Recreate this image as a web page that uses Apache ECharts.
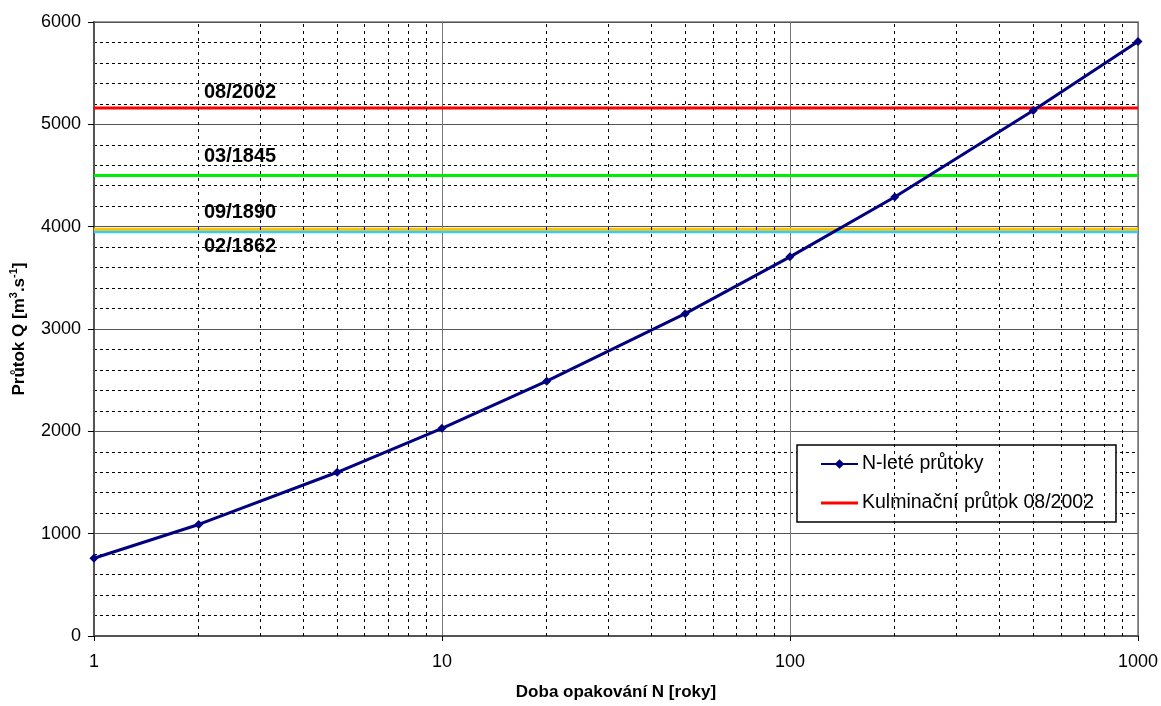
<!DOCTYPE html>
<html>
<head>
<meta charset="utf-8">
<script src="https://cdn.jsdelivr.net/npm/echarts@6/dist/echarts.min.js"></script>
<style>
html,body{margin:0;padding:0;background:#fff;}
#chart{width:1161px;height:706px;}
</style>
</head>
<body>
<div id="chart"></div>
<script>
// Return period N [years] and N-year discharge Q [m3/s]
const returnPeriods = [1, 2, 5, 10, 20, 50, 100, 200, 500, 1000];
const nYearFlows = [760, 1090, 1600, 2030, 2490, 3150, 3705, 4290, 5135, 5810];

// Historical flood peaks
const floodNames = ['08/2002', '03/1845', '02/1862', '09/1890'];
const floodPeaks = [5160, 4500, 3950, 3975];
const floodColors = ['#FF0000', '#00EE00', '#33CCFF', '#FFC000'];
const floodLabelOffsets = [[105, -15], [105, -19], [105, 15], [105, -17]];

// Axis tick values
const xMajorTicks = [1, 10, 100, 1000];
const xMinorTicks = [2, 3, 4, 5, 6, 7, 8, 9, 20, 30, 40, 50, 60, 70, 80, 90, 200, 300, 400, 500, 600, 700, 800, 900];
const yMin = 0, yMax = 6000, yStep = 1000;

const mainName = 'N-leté průtoky';
const legendFloodName = 'Kulminační průtok 08/2002';
const FONT = '"Liberation Sans", Arial, sans-serif';

const chart = echarts.init(document.getElementById('chart'));

const floodSeries = floodNames.map((nm, i) => ({
  name: i === 0 ? legendFloodName : nm,
  type: 'line',
  z: 3 + (i === 3 ? 1 : 0),
  data: [[xMajorTicks[0], floodPeaks[i]], [xMajorTicks[xMajorTicks.length - 1], floodPeaks[i]]],
  symbol: 'none',
  silent: true,
  lineStyle: { color: floodColors[i], width: 3 },
  itemStyle: { color: floodColors[i] },
  markPoint: {
    silent: true,
    symbol: 'circle',
    symbolSize: 0,
    data: [{ coord: [xMajorTicks[0], floodPeaks[i]], value: nm }],
    label: {
      show: true,
      position: 'right',
      offset: floodLabelOffsets[i],
      formatter: nm,
      fontFamily: FONT,
      fontSize: 20,
      fontWeight: 'bold',
      color: '#000'
    }
  }
}));

const option = {
  backgroundColor: '#fff',
  animation: false,
  textStyle: { fontFamily: FONT },
  grid: {
    left: 93, right: 22, top: 22, bottom: 67,
    show: true, borderColor: '#999', borderWidth: 2, backgroundColor: '#fff'
  },
  legend: {
    data: [
      { name: mainName },
      { name: legendFloodName, icon: 'path://M0,0L37,0L37,3L0,3Z' }
    ],
    orient: 'vertical',
    left: 797, top: 445,
    backgroundColor: '#fff',
    borderColor: '#000',
    borderWidth: 1.5,
    borderRadius: 0,
    padding: [8, 22, 8, 23],
    itemWidth: 37,
    itemHeight: 12,
    itemGap: 17,
    textStyle: { fontFamily: FONT, fontSize: 19.5, color: '#000', lineHeight: 22, padding: [0, 0, 0, -1] }
  },
  xAxis: {
    type: 'log',
    logBase: 10,
    min: xMajorTicks[0],
    max: xMajorTicks[xMajorTicks.length - 1],
    name: 'Doba opakování N [roky]',
    nameLocation: 'middle',
    nameGap: 48,
    nameTextStyle: { fontFamily: FONT, fontSize: 17, fontWeight: 'bold', color: '#000' },
    axisLine: { show: true, onZero: false, lineStyle: { color: '#555', width: 2 } },
    axisTick: { show: true, length: 5, lineStyle: { color: '#000' } },
    axisLabel: { fontFamily: FONT, fontSize: 18, color: '#000', margin: 17, formatter: v => String(v) },
    splitLine: { show: true, lineStyle: { color: '#777', width: 1 } }
  },
  yAxis: {
    type: 'value',
    min: yMin, max: yMax, interval: yStep,
    name: 'Průtok Q [m{sup|3}.s{sup|-1}]',
    nameLocation: 'middle',
    nameGap: 62,
    nameTextStyle: {
      fontFamily: FONT, fontSize: 17, fontWeight: 'bold', color: '#000', lineHeight: 22,
      rich: { sup: { fontFamily: FONT, fontSize: 11, fontWeight: 'bold', color: '#000', verticalAlign: 'top', lineHeight: 12 } }
    },
    axisLine: { show: true, lineStyle: { color: '#555', width: 2 } },
    axisTick: { show: true, length: 6, lineStyle: { color: '#000' } },
    axisLabel: { fontFamily: FONT, fontSize: 18, color: '#000', margin: 13, formatter: v => String(v) },
    splitLine: { show: true, lineStyle: { color: '#555', width: 1 } },
    minorTick: { show: false, splitNumber: 5 },
    minorSplitLine: { show: true, lineStyle: { color: '#000', width: 1, type: [3, 3] } }
  },
  series: [
    {
      name: 'minorGrid',
      type: 'line',
      z: 1,
      data: [],
      silent: true,
      markLine: {
        silent: true,
        symbol: ['none', 'none'],
        label: { show: false },
        lineStyle: { color: '#000', width: 1, type: [3, 4] },
        data: xMinorTicks.map(v => ({ xAxis: v }))
      }
    },
    ...floodSeries,
    {
      name: mainName,
      type: 'line',
      z: 10,
      data: returnPeriods.map((n, i) => [n, nYearFlows[i]]),
      symbol: 'diamond',
      symbolSize: 9,
      lineStyle: { color: '#000080', width: 3 },
      itemStyle: { color: '#000080' }
    }
  ]
};
chart.setOption(option);
</script>
</body>
</html>
